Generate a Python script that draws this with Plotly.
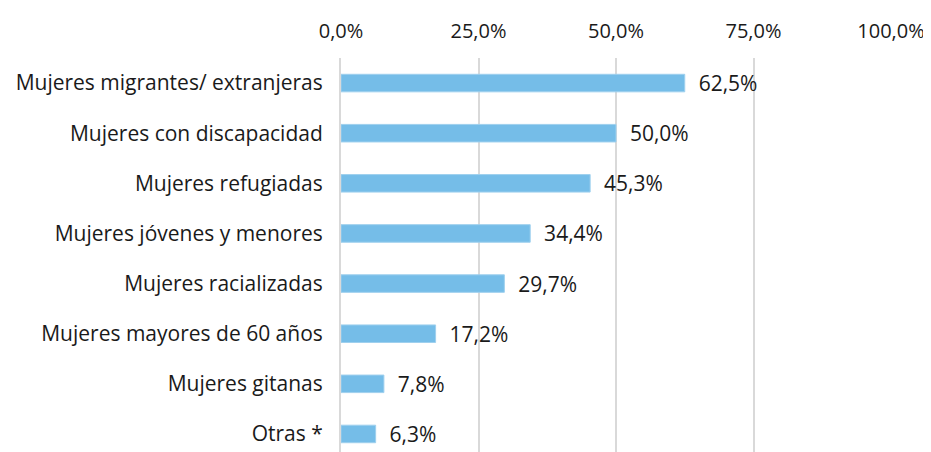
import plotly.graph_objects as go

categorias = [
    "Mujeres migrantes/ extranjeras",
    "Mujeres con discapacidad",
    "Mujeres refugiadas",
    "Mujeres jóvenes y menores",
    "Mujeres racializadas",
    "Mujeres mayores de 60 años",
    "Mujeres gitanas",
    "Otras *",
]
porcentajes = [62.5, 50.0, 45.3, 34.4, 29.7, 17.2, 7.8, 6.3]

FUENTE = "Open Sans, Lato, sans-serif"

# la página deja 8px de margen en body, se descuentan aquí
fig = go.Figure(
    go.Bar(
        x=porcentajes,
        y=categorias,
        orientation="h",
        marker=dict(color="#75BDE8", line=dict(color="#9FD0EE", width=1)),
        width=0.35,
        texttemplate="  %{x:.1f}%",
        textposition="outside",
        constraintext="none",
        textfont=dict(size=21, color="#1a1a1a"),
        cliponaxis=False,
    )
)

fig.update_layout(
    width=923,
    height=444,
    margin=dict(l=333, r=40, t=50, b=0),
    paper_bgcolor="white",
    plot_bgcolor="white",
    separators=",.",
    font=dict(family=FUENTE, size=21, color="#1a1a1a"),
    showlegend=False,
)
fig.update_xaxes(
    side="top",
    range=[0, 100],
    dtick=25,
    tickformat=".1f",
    ticksuffix="%",
    showgrid=True,
    gridcolor="#D9D9D9",
    gridwidth=2,
    zeroline=False,
    showline=False,
    ticks="",
    ticklabelstandoff=15,
    automargin=False,
    tickfont=dict(size=20),
)
fig.update_yaxes(
    range=[7.36, -0.5],
    showgrid=False,
    zeroline=False,
    showline=True,
    linecolor="#D9D9D9",
    linewidth=2,
    ticks="",
    ticklabelstandoff=12,
    automargin=False,
    tickfont=dict(size=21),
)

fig.write_html("out.html")
